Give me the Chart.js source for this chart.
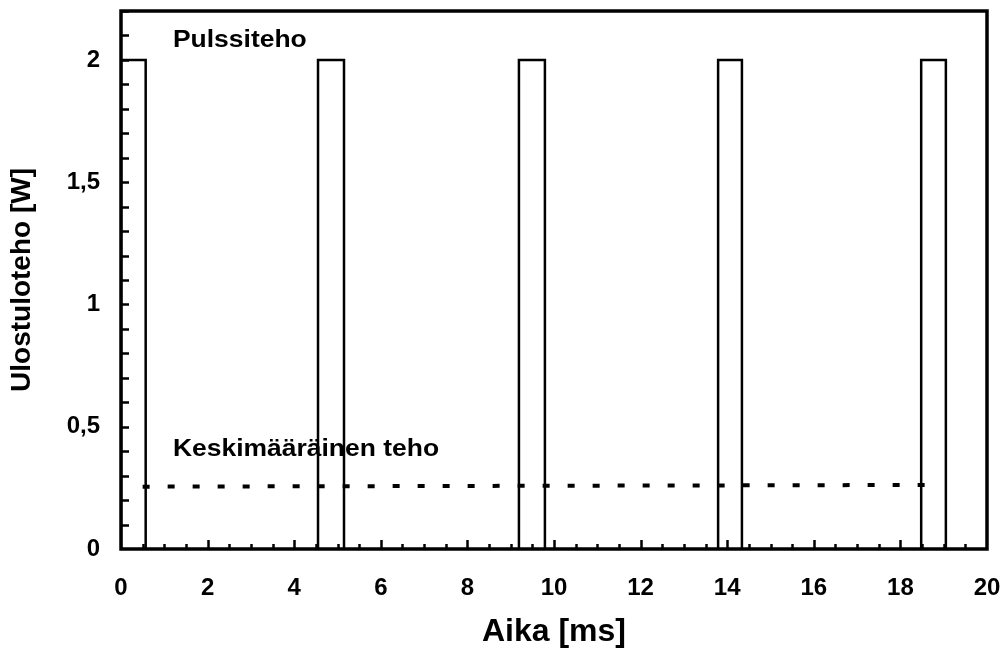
<!DOCTYPE html>
<html>
<head>
<meta charset="utf-8">
<script src="https://cdn.jsdelivr.net/npm/chart.js@4.4.1/dist/chart.umd.min.js"></script>
<style>
  html, body { margin: 0; padding: 0; background: #fff; }
  #wrap { width: 1002px; height: 654px; position: relative; }
</style>
</head>
<body>
<div id="wrap"><canvas id="c"></canvas></div>
<script>
// ---- data ----
const pulseStart = [0, 4.55, 9.19, 13.79, 18.48];   // ms
const pulseEnd   = [0.57, 5.15, 9.79, 14.34, 19.05]; // ms
const pulsePower = 2;                                 // W
const avgX = [0.5, 18.9];                             // ms
const avgY = [0.255, 0.262];                          // W
const xTickValues = [0, 2, 4, 6, 8, 10, 12, 14, 16, 18, 20];
const yTickValues = [0, 0.5, 1, 1.5, 2];
const xMinorStep = 0.5;
const yMinorStep = 0.1;
const annotationTexts = ['Pulssiteho', 'Keskimääräinen teho'];
const annotationX = [1.2, 1.2];
const annotationY = [2.08, 0.405];

// build the pulse outline from the arrays
const pulsePts = [];
pulseStart.forEach((s, i) => {
  const e = pulseEnd[i];
  pulsePts.push({x: s, y: 0}, {x: s, y: pulsePower}, {x: e, y: pulsePower}, {x: e, y: 0});
  if (i < pulseStart.length - 1) pulsePts.push({x: (e + pulseStart[i + 1]) / 2, y: null});
});
const avgPts = avgX.map((x, i) => ({x, y: avgY[i]}));

const FONT = "'Liberation Sans', Arial, sans-serif";

function zeroPad(s) { s.paddingLeft = 0; s.paddingRight = 0; s.paddingTop = 0; s.paddingBottom = 0; }

const framePlugin = {
  id: 'frame',
  afterDatasetsDraw(chart) {
    const {ctx, chartArea: a, scales: {x, y}} = chart;
    ctx.save();
    ctx.strokeStyle = '#000';
    ctx.lineCap = 'butt';
    // inward minor ticks on y
    ctx.lineWidth = 2.5;
    ctx.beginPath();
    for (let v = yMinorStep; v <= y.max + 1e-9; v += yMinorStep) {
      const py = Math.round(y.getPixelForValue(v)) + 0.5;
      ctx.moveTo(a.left, py); ctx.lineTo(a.left + 8, py);
    }
    // inward ticks on x
    for (let v = xMinorStep; v < x.max - 1e-9; v += xMinorStep) {
      const px = Math.round(x.getPixelForValue(v)) + 0.5;
      const major = Math.abs(v / 2 - Math.round(v / 2)) < 1e-6;
      ctx.moveTo(px, a.bottom); ctx.lineTo(px, a.bottom - (major ? 9 : 5));
    }
    ctx.stroke();
    // frame
    ctx.lineWidth = 3.5;
    ctx.strokeRect(a.left, a.top, a.right - a.left, a.bottom - a.top);
    // annotations
    ctx.fillStyle = '#000';
    ctx.font = 'bold 23px ' + FONT;
    ctx.textBaseline = 'middle';
    annotationTexts.forEach((t, i) => {
      const px = x.getPixelForValue(annotationX[i]);
      const py = y.getPixelForValue(annotationY[i]);
      ctx.save();
      ctx.translate(px, py);
      ctx.scale(1.15, 1);
      ctx.fillText(t, 0, 0);
      ctx.restore();
    });
    ctx.restore();
  }
};

new Chart(document.getElementById('c'), {
  type: 'scatter',
  data: {
    datasets: [
      {
        label: 'Pulssiteho',
        data: pulsePts,
        showLine: true,
        spanGaps: false,
        borderColor: '#000',
        borderWidth: 2.5,
        pointRadius: 0,
        tension: 0,
        fill: false
      },
      {
        label: 'Keskimääräinen teho',
        data: avgPts,
        showLine: true,
        borderColor: '#000',
        borderWidth: 4,
        borderDash: [7, 18],
        borderCapStyle: 'butt',
        pointRadius: 0,
        fill: false
      }
    ]
  },
  options: {
    responsive: true,
    maintainAspectRatio: false,
    animation: false,
    layout: { padding: { top: 11, right: 15, left: 0, bottom: 0 } },
    plugins: { legend: { display: false }, tooltip: { enabled: false } },
    scales: {
      x: {
        type: 'linear',
        min: 0, max: 20,
        afterFit(s) { s.height = 105; zeroPad(s); },
        afterBuildTicks(s) { s.ticks = xTickValues.map(v => ({value: v})); },
        grid: { display: false, drawTicks: false },
        border: { display: false },
        ticks: { color: '#000', padding: 25, maxRotation: 0, font: { family: FONT, size: 24, weight: 'bold' } },
        title: { display: true, text: 'Aika [ms]', color: '#000', padding: { top: 0, bottom: 3 },
                 font: { family: FONT, size: 32, weight: 'bold' } }
      },
      y: {
        type: 'linear',
        min: 0, max: 2.2,
        afterFit(s) { s.width = 121; zeroPad(s); },
        afterBuildTicks(s) { s.ticks = yTickValues.map(v => ({value: v})); },
        grid: { display: false, drawTicks: false },
        border: { display: false },
        ticks: { color: '#000', padding: 21, font: { family: FONT, size: 24, weight: 'bold' },
                 callback: v => String(v).replace('.', ',') },
        title: { display: true, text: 'Ulostuloteho [W]', color: '#000', padding: { top: 5, bottom: 0 },
                 font: { family: FONT, size: 28, weight: 'bold' } }
      }
    }
  },
  plugins: [framePlugin]
});
</script>
</body>
</html>
